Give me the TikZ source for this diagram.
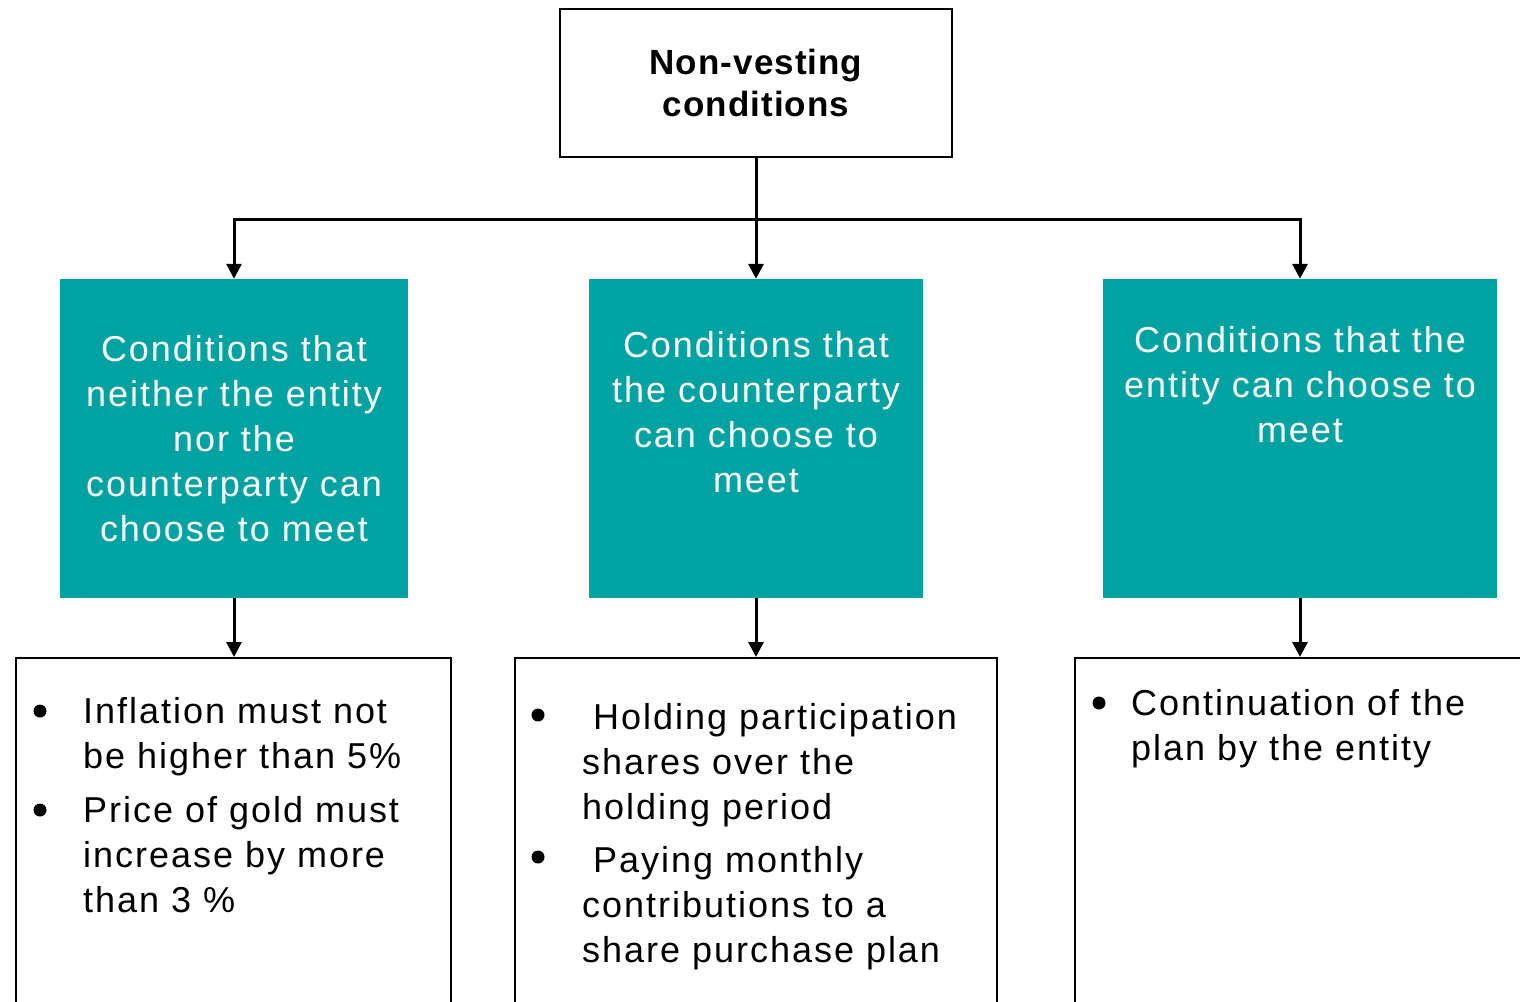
\documentclass[tikz,border=0pt]{standalone}
\usepackage{fontspec}
\usetikzlibrary{arrows.meta}
\newfontfamily\univ[LetterSpace=5.5]{Liberation Sans}
\newfontfamily\univbold[LetterSpace=3]{Liberation Sans}
\definecolor{kteal}{HTML}{00A3A1}
\begin{document}
\begin{tikzpicture}[x=1pt,y=-1pt,
  headbox/.style={draw=black,line width=2pt,fill=white,minimum width=392,minimum height=148,inner sep=0pt,
    align=center,font=\univbold\bfseries\fontsize{35}{42}\selectfont},
  tealbox/.style={fill=kteal,draw=none,inner sep=0pt},
  listbox/.style={draw=black,line width=2pt,fill=white,inner sep=0pt},
  tealtext/.style={anchor=north,inner sep=0pt,align=center,text=white,font=\univ\fontsize{36}{45}\selectfont},
  itemtext/.style={anchor=north west,inner sep=0pt,align=left,text=black,font=\univ\fontsize{36}{45}\selectfont},
  bulletdot/.style={circle,fill=black,draw=none,minimum size=13pt,inner sep=0pt},
  link/.style={line width=3pt,-{Triangle[length=15pt,width=15pt]}}]
\clip (0,0) rectangle (1520,1001);
\fill[white] (0,0) rectangle (1520,1001);

% top box
\node[headbox] (top) at (756,83) {Non-vesting\\conditions};
\coordinate (hub) at (756,219);

% teal category boxes
\node[tealbox,minimum width=348,minimum height=319] (c1) at (234,438.5) {};
\node[tealbox,minimum width=334,minimum height=319] (c2) at (756,438.5) {};
\node[tealbox,minimum width=394,minimum height=319] (c3) at (1300,438.5) {};

\node[tealtext] (t1) at (234,335) {Conditions that\\neither the entity\\nor the\\counterparty can\\choose to meet};
\node[tealtext] (t2) at (756,331) {Conditions that\\the counterparty\\can choose to\\meet};
\node[tealtext] (t3) at (1300,326) {Conditions that the\\entity can choose to\\meet};

% example boxes
\node[listbox,minimum width=435,minimum height=400] (b1) at (233.5,858) {};
\node[listbox,minimum width=482,minimum height=400] (b2) at (756,858) {};
\node[listbox,minimum width=465,minimum height=400] (b3) at (1307.5,858) {};

% connectors
\draw[line width=3pt] (top.south) -- (hub);
\draw[link] (hub) -| (c1.north);
\draw[link] (hub) -| (c3.north);
\draw[link] (top.south) -- (c2.north);
\draw[link] (c1.south) -- (c1.south |- b1.north);
\draw[link] (c2.south) -- (c2.south |- b2.north);
\draw[link] (c3.south) -- (c3.south |- b3.north);

% bullet lists
\node[bulletdot] (d1) at (40,711) {};
\node[itemtext] (i1) at (83,697) {Inflation must not\\be higher than 5\%};
\node[bulletdot] (d2) at (40,810) {};
\node[itemtext] (i2) at (83,796) {Price of gold must\\increase by more\\than 3 \%};

\node[bulletdot] (d3) at (538,715) {};
\node[itemtext] (i3) at (582,703) {\hspace*{11pt}Holding participation\\shares over the\\holding period};
\node[bulletdot] (d4) at (538,857) {};
\node[itemtext] (i4) at (582,846) {\hspace*{11pt}Paying monthly\\contributions to a\\share purchase plan};

\node[bulletdot] (d5) at (1099,703) {};
\node[itemtext] (i5) at (1131,689) {Continuation of the\\plan by the entity};
\end{tikzpicture}
\end{document}
